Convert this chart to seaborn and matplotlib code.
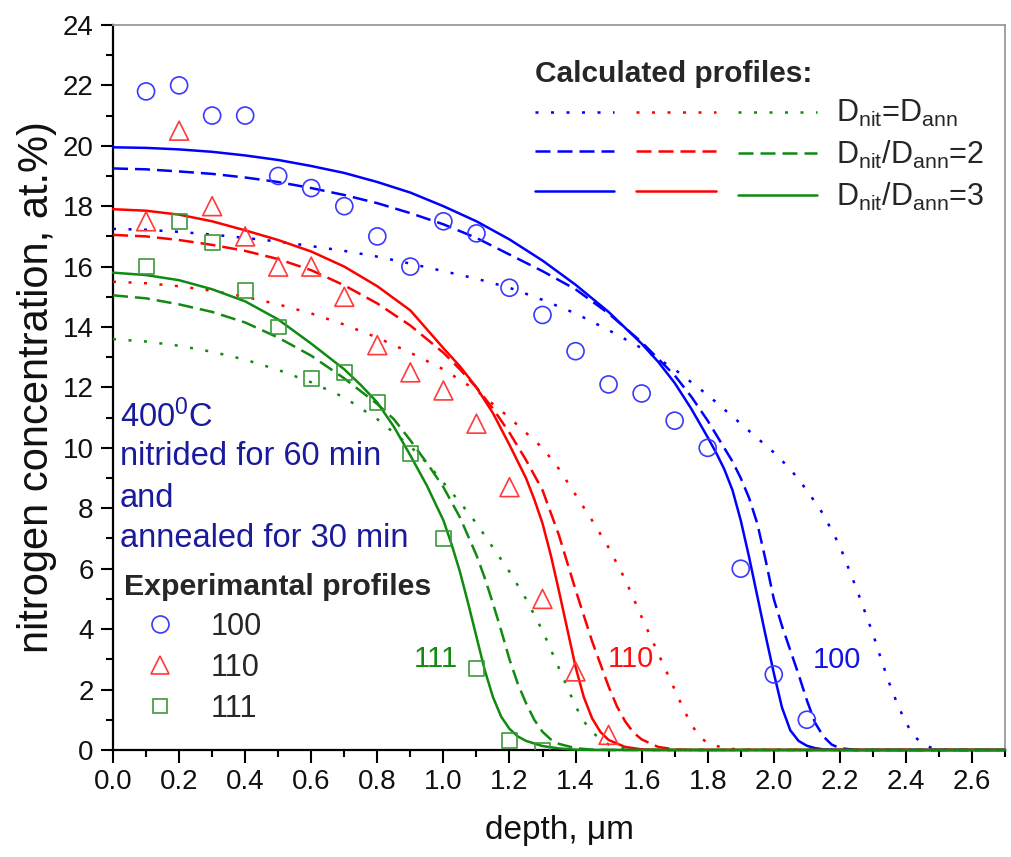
import numpy as np
import pandas as pd
import matplotlib
matplotlib.use("Agg")
import matplotlib.pyplot as plt
from matplotlib.lines import Line2D
from matplotlib.ticker import MultipleLocator, FormatStrFormatter
import seaborn as sns

# ---- measured profiles (depth in um, N in at.%) ----
depth_100 = [0.1, 0.2, 0.3, 0.4, 0.5, 0.6, 0.7, 0.8, 0.9, 1.0, 1.1, 1.2, 1.3, 1.4,
             1.5, 1.6, 1.7, 1.8, 1.9, 2.0, 2.1]
conc_100 = [21.8, 22.0, 21.0, 21.0, 19.0, 18.6, 18.0, 17.0, 16.0, 17.5, 17.1, 15.3,
            14.4, 13.2, 12.1, 11.8, 10.9, 10.0, 6.0, 2.5, 1.0]
depth_110 = [0.1, 0.2, 0.3, 0.4, 0.5, 0.6, 0.7, 0.8, 0.9, 1.0, 1.1, 1.2, 1.3, 1.4, 1.5]
conc_110 = [17.5, 20.5, 18.0, 17.0, 16.0, 16.0, 15.0, 13.4, 12.5, 11.9, 10.8, 8.7,
            5.0, 2.6, 0.5]
depth_111 = [0.1, 0.2, 0.3, 0.4, 0.5, 0.6, 0.7, 0.8, 0.9, 1.0, 1.1, 1.2, 1.3]
conc_111 = [16.0, 17.5, 16.8, 15.2, 14.0, 12.3, 12.5, 11.5, 9.8, 7.0, 2.7, 0.3, 0.0]

# ---- calculated profiles ----
# (100), D_nit = D_ann
x_100_r1 = [0, 0.1, 0.2, 0.3, 0.4, 0.5, 0.6, 0.7, 0.8, 0.9, 1.0, 1.1, 1.2, 1.3, 1.4,
            1.5, 1.6, 1.7, 1.8, 1.9, 2.0, 2.05, 2.1, 2.15, 2.2, 2.25, 2.275, 2.3,
            2.325, 2.35, 2.375, 2.4, 2.425, 2.45, 2.475, 2.5, 2.55, 2.7]
y_100_r1 = [17.25, 17.22, 17.15, 17.06, 16.95, 16.83, 16.68, 16.52, 16.33, 16.1,
            15.85, 15.6, 15.3, 14.9, 14.45, 13.9, 13.3, 12.6, 11.75, 10.8, 9.85, 9.3,
            8.6, 7.8, 6.75, 5.35, 4.6, 3.85, 3.0, 2.2, 1.5, 0.9, 0.45, 0.22, 0.08,
            0.03, 0, 0]
# (100), D_nit/D_ann = 2
x_100_r2 = [0, 0.1, 0.2, 0.3, 0.4, 0.5, 0.6, 0.7, 0.8, 0.9, 1.0, 1.1, 1.2, 1.3, 1.4,
            1.5, 1.6, 1.7, 1.75, 1.8, 1.85, 1.875, 1.9, 1.925, 1.95, 1.975, 2.0,
            2.025, 2.05, 2.075, 2.1, 2.125, 2.15, 2.175, 2.2, 2.25, 2.7]
y_100_r2 = [19.25, 19.22, 19.15, 19.07, 18.95, 18.8, 18.6, 18.37, 18.1, 17.77, 17.4,
            16.95, 16.4, 15.85, 15.25, 14.45, 13.5, 12.4, 11.7, 10.9, 10.0, 9.55,
            9.0, 8.35, 7.5, 6.3, 5.0, 4.1, 3.3, 2.5, 1.65, 0.9, 0.45, 0.18, 0.06, 0,
            0]
# (100), D_nit/D_ann = 3
x_100_r3 = [0, 0.1, 0.2, 0.3, 0.4, 0.5, 0.6, 0.7, 0.8, 0.9, 1.0, 1.1, 1.2, 1.3, 1.4,
            1.5, 1.6, 1.65, 1.7, 1.75, 1.8, 1.825, 1.85, 1.875, 1.9, 1.925, 1.95,
            1.975, 2.0, 2.025, 2.05, 2.075, 2.1, 2.125, 2.15, 2.2, 2.7]
y_100_r3 = [19.95, 19.93, 19.88, 19.8, 19.68, 19.53, 19.33, 19.1, 18.8, 18.45, 18.0,
            17.5, 16.9, 16.2, 15.4, 14.5, 13.45, 12.85, 12.15, 11.3, 10.35, 9.85,
            9.3, 8.6, 7.6, 6.4, 5.1, 3.8, 2.55, 1.4, 0.65, 0.3, 0.14, 0.06, 0.02,
            0, 0]
# (110), D_nit = D_ann
x_110_r1 = [0, 0.1, 0.2, 0.3, 0.4, 0.5, 0.6, 0.7, 0.8, 0.9, 1.0, 1.1, 1.2, 1.25,
            1.3, 1.35, 1.4, 1.45, 1.5, 1.55, 1.6, 1.65, 1.7, 1.725, 1.75, 1.775,
            1.8, 1.85, 1.9, 2.7]
y_110_r1 = [15.5, 15.45, 15.35, 15.2, 15.0, 14.75, 14.45, 14.08, 13.65, 13.15, 12.6,
            11.9, 11.0, 10.5, 10.0, 9.3, 8.45, 7.6, 6.7, 5.65, 4.4, 3.2, 2.0, 1.4,
            0.85, 0.45, 0.22, 0.06, 0.01, 0]
# (110), D_nit/D_ann = 2
x_110_r2 = [0, 0.1, 0.2, 0.3, 0.4, 0.5, 0.6, 0.7, 0.8, 0.9, 1.0, 1.05, 1.1, 1.15,
            1.2, 1.25, 1.3, 1.35, 1.4, 1.45, 1.475, 1.5, 1.525, 1.55, 1.575, 1.6,
            1.65, 1.7, 1.75, 2.7]
y_110_r2 = [17.05, 17.0, 16.88, 16.72, 16.52, 16.25, 15.88, 15.38, 14.78, 14.05,
            13.15, 12.6, 12.0, 11.3, 10.5, 9.6, 8.6, 7.1, 5.3, 3.6, 2.85, 2.1, 1.45,
            0.95, 0.58, 0.35, 0.1, 0.02, 0, 0]
# (110), D_nit/D_ann = 3
x_110_r3 = [0, 0.1, 0.2, 0.3, 0.4, 0.5, 0.6, 0.7, 0.8, 0.9, 1.0, 1.05, 1.1, 1.15,
            1.2, 1.25, 1.275, 1.3, 1.325, 1.35, 1.375, 1.4, 1.425, 1.45, 1.475, 1.5,
            1.55, 1.6, 1.65, 2.7]
y_110_r3 = [17.9, 17.85, 17.72, 17.5, 17.2, 16.88, 16.5, 16.0, 15.35, 14.55, 13.3,
            12.7, 12.0, 11.15, 10.1, 9.0, 8.3, 7.5, 6.45, 5.25, 4.0, 2.75, 1.75,
            1.05, 0.6, 0.33, 0.1, 0.02, 0, 0]
# (111), D_nit = D_ann
x_111_r1 = [0, 0.1, 0.2, 0.3, 0.4, 0.5, 0.6, 0.7, 0.8, 0.9, 0.95, 1.0, 1.05, 1.1,
            1.15, 1.2, 1.25, 1.3, 1.35, 1.4, 1.425, 1.45, 1.475, 1.5, 1.55, 1.6, 2.7]
y_111_r1 = [13.6, 13.52, 13.38, 13.18, 12.92, 12.58, 12.17, 11.67, 10.95, 10.05, 9.5,
            8.85, 8.2, 7.5, 6.7, 5.9, 5.0, 3.95, 2.7, 1.45, 0.95, 0.6, 0.35, 0.18,
            0.05, 0, 0]
# (111), D_nit/D_ann = 2
x_111_r2 = [0, 0.1, 0.2, 0.3, 0.4, 0.5, 0.6, 0.7, 0.8, 0.85, 0.9, 0.95, 1.0, 1.05,
            1.1, 1.125, 1.15, 1.175, 1.2, 1.225, 1.25, 1.275, 1.3, 1.325, 1.35, 1.4,
            1.45, 1.5, 2.7]
y_111_r2 = [15.05, 14.95, 14.75, 14.5, 14.15, 13.65, 13.05, 12.3, 11.45, 10.95,
            10.25, 9.5, 8.7, 7.7, 6.45, 5.7, 4.85, 3.95, 3.0, 2.2, 1.55, 1.0, 0.6,
            0.35, 0.2, 0.06, 0.01, 0, 0]
# (111), D_nit/D_ann = 3
x_111_r3 = [0, 0.1, 0.2, 0.3, 0.4, 0.5, 0.6, 0.7, 0.75, 0.8, 0.85, 0.9, 0.95, 1.0,
            1.025, 1.05, 1.075, 1.1, 1.125, 1.15, 1.175, 1.2, 1.225, 1.25, 1.3,
            1.35, 1.4, 1.45, 2.7]
y_111_r3 = [15.8, 15.72, 15.55, 15.25, 14.85, 14.25, 13.45, 12.6, 12.08, 11.5, 10.7,
            9.75, 8.75, 7.6, 6.8, 5.9, 4.85, 3.75, 2.65, 1.75, 1.1, 0.7, 0.45, 0.3,
            0.13, 0.05, 0.01, 0, 0]

orientations = ["100", "110", "111"]
models = ["r1", "r2", "r3"]
model_labels = [r"D$_{\mathrm{nit}}$=D$_{\mathrm{ann}}$",
                r"D$_{\mathrm{nit}}$/D$_{\mathrm{ann}}$=2",
                r"D$_{\mathrm{nit}}$/D$_{\mathrm{ann}}$=3"]

line_colors = {"100": "#0000ff", "110": "#ff0000", "111": "#108a10"}
marker_colors = {"100": "#3a3aff", "110": "#ff3a3a", "111": "#3a9a3a"}
label_colors = {"100": "#1414e6", "110": "#ff1010", "111": "#108a10"}
line_dashes = {"r1": (1.2, 5.0), "r2": (6.0, 2.8), "r3": ""}
markers = {"100": "o", "110": "^", "111": "s"}
marker_sizes = {"100": 150, "110": 185, "111": 115}

calc_series = {
    ("100", "r1"): (x_100_r1, y_100_r1), ("100", "r2"): (x_100_r2, y_100_r2),
    ("100", "r3"): (x_100_r3, y_100_r3), ("110", "r1"): (x_110_r1, y_110_r1),
    ("110", "r2"): (x_110_r2, y_110_r2), ("110", "r3"): (x_110_r3, y_110_r3),
    ("111", "r1"): (x_111_r1, y_111_r1), ("111", "r2"): (x_111_r2, y_111_r2),
    ("111", "r3"): (x_111_r3, y_111_r3),
}
calc = pd.concat(
    [pd.DataFrame({"depth": xs, "conc": ys, "orientation": o, "model": m})
     for (o, m), (xs, ys) in calc_series.items()],
    ignore_index=True)

exp_series = {"100": (depth_100, conc_100), "110": (depth_110, conc_110),
              "111": (depth_111, conc_111)}

# ---- style ----
sns.set_theme(style="ticks")
plt.rcParams["font.family"] = ["Liberation Sans", "DejaVu Sans"]
plt.rcParams["mathtext.fontset"] = "custom"
plt.rcParams["mathtext.rm"] = "Liberation Sans"
plt.rcParams["mathtext.it"] = "Liberation Sans:italic"
plt.rcParams["mathtext.bf"] = "Liberation Sans:bold"

fig = plt.figure(figsize=(10.11, 8.57), dpi=100)
ax = fig.add_axes([0.1118, 0.1249, 0.8823, 0.846])

sns.lineplot(data=calc, x="depth", y="conc", hue="orientation", style="model",
             hue_order=orientations, style_order=models, palette=line_colors,
             dashes=line_dashes, estimator=None, sort=False, lw=1.8,
             legend=False, ax=ax, zorder=3, clip_on=False)

for o in orientations:
    xs, ys = exp_series[o]
    sns.scatterplot(x=xs, y=ys, marker=markers[o], s=marker_sizes[o],
                    facecolor="none", edgecolor=marker_colors[o], color=marker_colors[o],
                    linewidth=1.2, ax=ax, zorder=4)

ax.set_xlim(0, 2.7)
ax.set_ylim(0, 24)
ax.xaxis.set_major_locator(MultipleLocator(0.2))
ax.xaxis.set_minor_locator(MultipleLocator(0.1))
ax.xaxis.set_major_formatter(FormatStrFormatter("%.1f"))
ax.yaxis.set_major_locator(MultipleLocator(2))
ax.yaxis.set_minor_locator(MultipleLocator(1))
ax.yaxis.set_major_formatter(FormatStrFormatter("%d"))
ax.tick_params(which="major", direction="out", length=9, width=1.5,
               labelsize=20, color="black", labelcolor="#111111", pad=5)
ax.tick_params(which="minor", direction="out", length=5, width=1.5, color="black")
for side in ("left", "bottom"):
    ax.spines[side].set_color("black")
    ax.spines[side].set_linewidth(1.6)
for side in ("top", "right"):
    ax.spines[side].set_visible(True)
    ax.spines[side].set_color("#9a9a9a")
    ax.spines[side].set_linewidth(1.3)

ax.set_xlabel("depth, \u03bcm", fontsize=24, labelpad=14, color="#111111")
ax.set_ylabel("nitrogen concentration, at.%)", fontsize=30, labelpad=4,
              color="#111111")

# process conditions
cond_color = "#1a1a9c"
cond_size = 23.5
ax.text(0.021, 10.7, r"400$^{0}$C", fontsize=cond_size, color=cond_color, va="baseline")
ax.text(0.021, 9.44, "nitrided for 60 min", fontsize=cond_size, color=cond_color,
        va="baseline")
ax.text(0.021, 8.05, "and", fontsize=cond_size, color=cond_color, va="baseline")
ax.text(0.021, 6.72, "annealed for 30 min", fontsize=cond_size, color=cond_color,
        va="baseline")

# orientation labels next to the curves
ax.text(0.91, 2.75, "111", fontsize=21, color=label_colors["111"], va="baseline")
ax.text(1.497, 2.75, "110", fontsize=21, color=label_colors["110"], va="baseline")
ax.text(2.118, 2.72, "100", fontsize=21, color=label_colors["100"], va="baseline")

# legend of calculated profiles: one column per orientation
calc_handles, calc_labels = [], []
for o in orientations:
    for m, lab in zip(models, model_labels):
        d = line_dashes[m]
        h = Line2D([], [], color=line_colors[o], lw=1.8,
                   linestyle=(0, d) if d else "-")
        calc_handles.append(h)
        calc_labels.append(lab if o == "111" else "")
leg1 = ax.legend(calc_handles, calc_labels, ncol=3, loc="upper left",
                 bbox_to_anchor=(0.473, 0.951), frameon=False, fontsize=22,
                 handlelength=2.6, handletextpad=0.6, columnspacing=0.12,
                 labelspacing=0.32, borderpad=0, borderaxespad=0,
                 title="Calculated profiles:", alignment="left",
                 title_fontproperties={"weight": "bold", "size": 21.5})
ax.add_artist(leg1)

# legend of measured profiles
exp_handles = [Line2D([], [], marker=markers[o], linestyle="none",
                      markersize=np.sqrt(marker_sizes[o]), markerfacecolor="none",
                      markeredgecolor=marker_colors[o], markeredgewidth=1.2)
               for o in orientations]
leg2 = ax.legend(exp_handles, orientations, loc="upper left",
                 bbox_to_anchor=(0.012, 0.244), frameon=False, fontsize=22,
                 handlelength=2.4, handletextpad=0.45, labelspacing=0.36,
                 borderpad=0, borderaxespad=0, title="Experimantal profiles",
                 alignment="left",
                 title_fontproperties={"weight": "bold", "size": 21.8})

fig.savefig("out.png", dpi=100)
